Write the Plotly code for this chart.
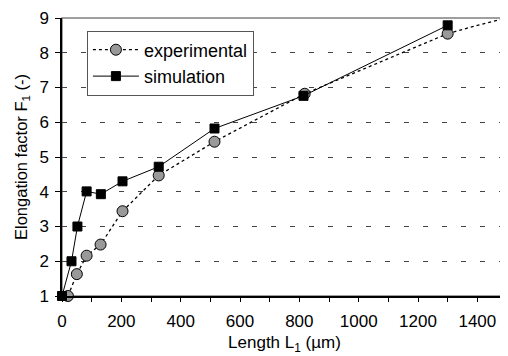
import plotly.graph_objects as go

exp_x = [20, 50, 83, 130, 204, 326, 514, 818, 1300]
exp_y = [1.0, 1.63, 2.16, 2.48, 3.44, 4.47, 5.44, 6.82, 8.55]
sim_x = [0, 32, 52, 83, 131, 204, 326, 514, 814, 1300]
sim_y = [1.0, 2.0, 3.0, 4.01, 3.93, 4.30, 4.72, 5.82, 6.76, 8.79]
ext_x = [1300, 1400, 1500]
ext_y = [8.55, 8.79, 9.0]

FONT = "Liberation Sans"

fig = go.Figure()
fig.add_trace(go.Scatter(x=ext_x, y=ext_y, mode="lines", showlegend=False, cliponaxis=False,
                         line=dict(color="black", width=1.3, dash="dot"), hoverinfo="skip"))
fig.add_trace(go.Scatter(x=exp_x, y=exp_y, mode="lines+markers", name="experimental",
                         legendgroup="a", cliponaxis=False,
                         line=dict(color="black", width=1.3, dash="dot"),
                         marker=dict(symbol="circle", size=11, color="#999999",
                                     line=dict(color="black", width=1))))
fig.add_trace(go.Scatter(x=sim_x, y=sim_y, mode="lines+markers", name="simulation",
                         legendgroup="b", cliponaxis=False,
                         line=dict(color="black", width=1),
                         marker=dict(symbol="square", size=9, color="black",
                                     line=dict(color="black", width=1))))

# page body has an 8px default margin, so the figure is 8px smaller and shifted
fig.update_layout(
    width=500, height=348,
    margin=dict(l=54, r=1, t=10, b=60, autoexpand=False),
    paper_bgcolor="white", plot_bgcolor="white",
    font=dict(family=FONT, size=17, color="black"),
    showlegend=True,
    legend=dict(x=0.056, y=0.955, xanchor="left", yanchor="top",
                bgcolor="white", bordercolor="#555555", borderwidth=1,
                font=dict(family=FONT, size=18), tracegroupgap=0, itemwidth=46),
    xaxis=dict(range=[0, 1500], tickmode="linear", tick0=0, dtick=200,
               ticks="outside", ticklen=4, tickcolor="black", automargin=False,
               ticklabelstandoff=5,
               minor=dict(dtick=100, ticks="outside", ticklen=4, tickcolor="black"),
               showline=True, linecolor="black", linewidth=1.5,
               showgrid=False, zeroline=False,
               title=dict(text="Length L<sub>1</sub> (µm)", font=dict(size=17), standoff=6),
               tickfont=dict(size=17)),
    yaxis=dict(range=[1, 9], tickmode="linear", tick0=1, dtick=1,
               ticks="outside", ticklen=5, tickcolor="black", automargin=False,
               ticklabelstandoff=3,
               showline=True, linecolor="black", linewidth=1.5,
               showgrid=True, gridcolor="#444444", gridwidth=1, griddash="5px,14px",
               zeroline=False,
               title=dict(text="Elongation factor F<sub>1</sub> (-)", font=dict(size=16.5), standoff=8),
               tickfont=dict(size=17)),
    shapes=[dict(type="rect", xref="paper", yref="paper", x0=0, x1=1, y0=0, y1=1,
                 line=dict(color="#808080", width=1.5), layer="below")],
)

fig.write_html("out.html")
